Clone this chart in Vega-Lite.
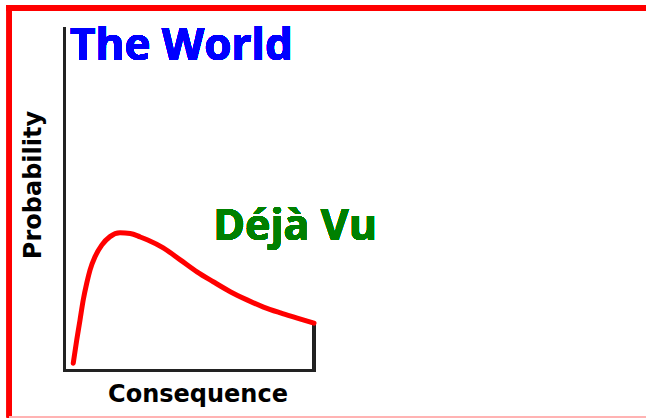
{
  "$schema": "https://vega.github.io/schema/vega-lite/v6.json",
  "width": 250,
  "height": 342,
  "autosize": {"type": "none"},
  "padding": {"left": 64, "top": 28, "right": 332, "bottom": 49},
  "background": "white",
  "config": {"view": {"stroke": null}},
  "data": {
    "values": [
      {"Consequence": 3.7, "Probability": 2.0},
      {"Consequence": 5.1, "Probability": 8.8},
      {"Consequence": 6.4, "Probability": 14.6},
      {"Consequence": 7.7, "Probability": 20.5},
      {"Consequence": 9.1, "Probability": 25.4},
      {"Consequence": 10.4, "Probability": 29.2},
      {"Consequence": 12.4, "Probability": 33.1},
      {"Consequence": 15.1, "Probability": 36.5},
      {"Consequence": 18.4, "Probability": 39.0},
      {"Consequence": 22.4, "Probability": 40.1},
      {"Consequence": 26.5, "Probability": 39.9},
      {"Consequence": 30.5, "Probability": 38.9},
      {"Consequence": 33.5, "Probability": 38.0},
      {"Consequence": 39.7, "Probability": 35.7},
      {"Consequence": 46.5, "Probability": 32.2},
      {"Consequence": 53.2, "Probability": 28.7},
      {"Consequence": 59.7, "Probability": 25.8},
      {"Consequence": 66.5, "Probability": 22.9},
      {"Consequence": 73.2, "Probability": 20.5},
      {"Consequence": 79.8, "Probability": 18.4},
      {"Consequence": 86.6, "Probability": 16.7},
      {"Consequence": 93.3, "Probability": 15.2},
      {"Consequence": 100, "Probability": 13.7}
    ]
  },
  "layer": [
    {
      "mark": {"type": "rule", "stroke": "#FF0000", "strokeWidth": 6},
      "encoding": {
        "x": {"datum": -22.85, "type": "quantitative"},
        "x2": {"datum": 240},
        "y": {"datum": 105.85, "type": "quantitative"}
      }
    },
    {
      "mark": {"type": "rule", "stroke": "#FF0000", "strokeWidth": 5},
      "encoding": {
        "x": {"datum": -21.84, "type": "quantitative"},
        "y": {"datum": 106.7, "type": "quantitative"},
        "y2": {"datum": -13.9}
      }
    },
    {
      "mark": {"type": "rule", "stroke": "#FFB3B3", "strokeWidth": 1},
      "encoding": {
        "x": {"datum": -21.84, "type": "quantitative"},
        "x2": {"datum": 240},
        "y": {"datum": -13.74, "type": "quantitative"}
      }
    },
    {
      "mark": {"type": "rule", "stroke": "#222222", "strokeWidth": 2.5},
      "encoding": {
        "x": {"datum": 100, "type": "quantitative"},
        "y": {"datum": 0, "type": "quantitative"},
        "y2": {"datum": 13.7}
      }
    },
    {
      "mark": {"type": "line", "stroke": "#FF0000", "strokeWidth": 5, "interpolate": "monotone", "strokeCap": "round"},
      "encoding": {
        "x": {
          "field": "Consequence", "type": "quantitative",
          "scale": {"domain": [0, 100], "nice": false, "zero": false},
          "axis": {
            "title": "Consequence", "domain": true, "domainColor": "#222222", "domainWidth": 3, "domainCap": "square",
            "ticks": false, "labels": false, "grid": false,
            "titleFont": "DejaVu Sans", "titleFontWeight": "bold", "titleFontSize": 24, "titleColor": "#000000",
            "titleX": 133.5, "titleY": 31, "titleBaseline": "alphabetic", "titleAlign": "center"
          }
        },
        "y": {
          "field": "Probability", "type": "quantitative",
          "scale": {"domain": [0, 100], "nice": false, "zero": false},
          "axis": {
            "title": "Probability", "domain": true, "domainColor": "#222222", "domainWidth": 3, "domainCap": "square",
            "ticks": false, "labels": false, "grid": false,
            "titleFont": "DejaVu Sans", "titleFontWeight": "bold", "titleFontSize": 24, "titleColor": "#000000",
            "titleX": -23.5, "titleY": 156.5, "titleBaseline": "alphabetic", "titleAlign": "center", "titleAngle": -90
          }
        }
      }
    },
    {
      "mark": {"type": "text", "text": "The World", "font": "Open Sans", "fontWeight": "bold", "fontSize": 44, "fill": "#0000FF", "align": "left", "baseline": "alphabetic"},
      "encoding": {
        "x": {"datum": 2.4, "type": "quantitative"},
        "y": {"datum": 90.6, "type": "quantitative"}
      }
    },
    {
      "mark": {"type": "text", "text": "Déjà Vu", "font": "Open Sans", "fontWeight": "bold", "fontSize": 43, "fill": "#008000", "align": "left", "baseline": "alphabetic"},
      "encoding": {
        "x": {"datum": 59.7, "type": "quantitative"},
        "y": {"datum": 38.0, "type": "quantitative"}
      }
    }
  ]
}
